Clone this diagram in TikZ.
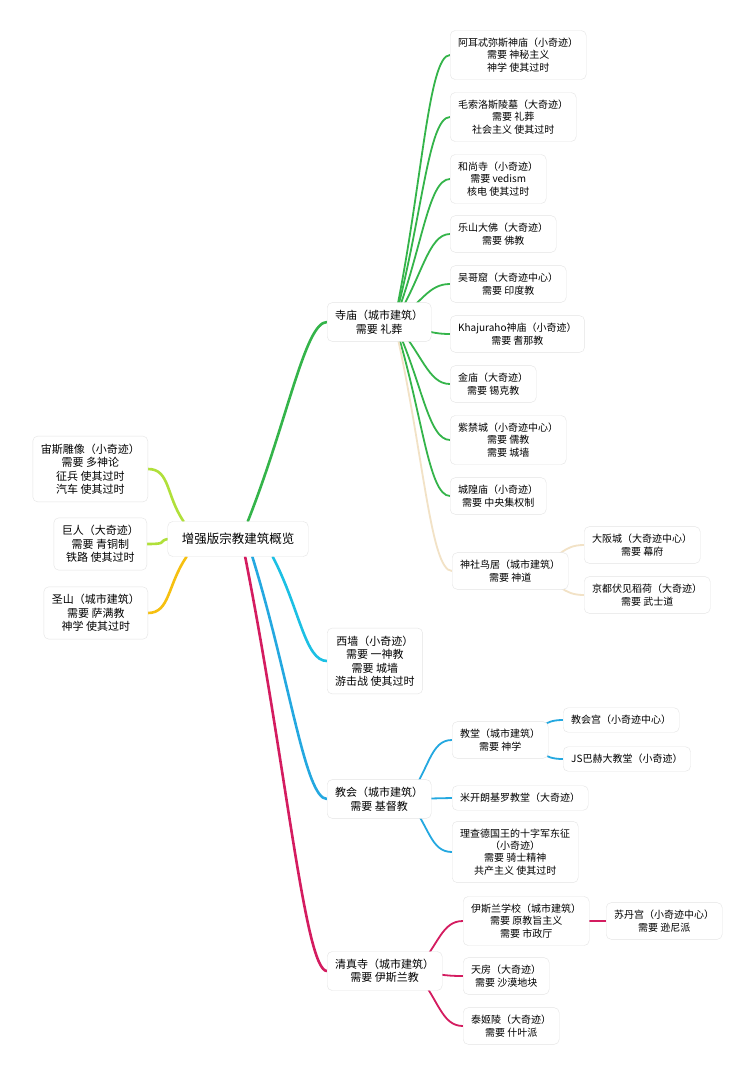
\documentclass[tikz,border=0pt]{standalone}
\usepackage{fontspec}
\setmainfont{Noto Sans CJK SC}
\usetikzlibrary{calc,backgrounds}
\definecolor{boxgray}{RGB}{228,228,228}
\definecolor{templegreen}{RGB}{52,180,74}
\definecolor{shintobeige}{RGB}{242,226,198}
\definecolor{zeuslime}{RGB}{176,224,58}
\definecolor{mountyellow}{RGB}{246,192,16}
\definecolor{wallcyan}{RGB}{28,192,228}
\definecolor{churchblue}{RGB}{36,168,224}
\definecolor{mosquered}{RGB}{212,28,96}
\tikzset{
  box/.style={draw=boxgray, fill=white, rounded corners=5pt, align=center,
    inner xsep=8pt, inner ysep=7.5pt},
  rootbox/.style={box, font=\fontsize{12.5}{15}\selectfont, inner xsep=14pt,
    minimum height=35pt},
  mainbox/.style={box, font=\fontsize{11}{13.5}\selectfont},
  leafbox/.style={box, font=\fontsize{10}{12.3}\selectfont},
  branch/.style={line width=2.6pt, line cap=round,
    to path={.. controls ($(\tikztostart)!0.5!(\tikztotarget)$)
      and ($(\tikztotarget)+(-22,0)$) .. (\tikztotarget)}},
  branchleft/.style={line width=2.6pt, line cap=round,
    to path={.. controls ($(\tikztostart)!0.5!(\tikztotarget)$)
      and ($(\tikztotarget)+(22,0)$) .. (\tikztotarget)}},
  twig/.style={branch, line width=1.8pt}
}
\begin{document}
\begin{tikzpicture}[x=1pt, y=-1pt]
  \useasboundingbox (0,0) rectangle (750,1076);

  % centro
  \node[rootbox] (root) at (238,539) {增强版宗教建筑概览};

  % lado izquierdo
  \node[mainbox, anchor=east] (zeus) at (148,469) {宙斯雕像（小奇迹）\\需要 多神论\\征兵 使其过时\\汽车 使其过时};
  \node[mainbox, anchor=east] (colossus) at (147,544) {巨人（大奇迹）\\需要 青铜制\\铁路 使其过时};
  \node[mainbox, anchor=east] (holymount) at (148,613) {圣山（城市建筑）\\需要 萨满教\\神学 使其过时};

  % ramas principales
  \node[mainbox, anchor=west] (temple) at (327,322) {寺庙（城市建筑）\\需要 礼葬};
  \node[mainbox, anchor=west] (wall) at (327,661) {西墙（小奇迹）\\需要 一神教\\需要 城墙\\游击战 使其过时};
  \node[mainbox, anchor=west] (church) at (327,799) {教会（城市建筑）\\需要 基督教};
  \node[mainbox, anchor=west] (mosque) at (327,971) {清真寺（城市建筑）\\需要 伊斯兰教};

  %寺庙
  \node[leafbox, anchor=west] (artemis) at (450,55) {阿耳忒弥斯神庙（小奇迹）\\需要 神秘主义\\神学 使其过时};
  \node[leafbox, anchor=west] (mausoleum) at (450,117) {毛索洛斯陵墓（大奇迹）\\需要 礼葬\\社会主义 使其过时};
  \node[leafbox, anchor=west] (monastery) at (450,179) {和尚寺（小奇迹）\\需要 vedism\\核电 使其过时};
  \node[leafbox, anchor=west] (leshan) at (450,234) {乐山大佛（大奇迹）\\需要 佛教};
  \node[leafbox, anchor=west] (angkor) at (450,284) {吴哥窟（大奇迹中心）\\需要 印度教};
  \node[leafbox, anchor=west] (khajuraho) at (450,334) {Khajuraho神庙（小奇迹）\\需要 耆那教};
  \node[leafbox, anchor=west] (golden) at (450,384) {金庙（大奇迹）\\需要 锡克教};
  \node[leafbox, anchor=west] (forbidden) at (450,440) {紫禁城（小奇迹中心）\\需要 儒教\\需要 城墙};
  \node[leafbox, anchor=west] (chenghuang) at (450,496) {城隍庙（小奇迹）\\需要 中央集权制};
  \node[leafbox, anchor=west] (shrine) at (452,571) {神社鸟居（城市建筑）\\需要 神道};
  \node[leafbox, anchor=west] (osaka) at (584,545) {大阪城（大奇迹中心）\\需要 幕府};
  \node[leafbox, anchor=west] (fushimi) at (584,595) {京都伏见稻荷（大奇迹）\\需要 武士道};

  % 教会
  \node[leafbox, anchor=west] (cathedral) at (452,740) {教堂（城市建筑）\\需要 神学};
  \node[leafbox, anchor=west] (palace) at (563,720) {教会宫（小奇迹中心）};
  \node[leafbox, anchor=west] (bach) at (563,759) {JS巴赫大教堂（小奇迹）};
  \node[leafbox, anchor=west] (michelangelo) at (452,798) {米开朗基罗教堂（大奇迹）};
  \node[leafbox, anchor=west] (crusade) at (452,852) {理查德国王的十字军东征\\（小奇迹）\\需要 骑士精神\\共产主义 使其过时};

  % 清真寺
  \node[leafbox, anchor=west] (madrasa) at (463,921) {伊斯兰学校（城市建筑）\\需要 原教旨主义\\需要 市政厅};
  \node[leafbox, anchor=west] (sultan) at (606,921) {苏丹宫（小奇迹中心）\\需要 逊尼派};
  \node[leafbox, anchor=west] (kaaba) at (463,976) {天房（大奇迹）\\需要 沙漠地块};
  \node[leafbox, anchor=west] (tajmahal) at (463,1026) {泰姬陵（大奇迹）\\需要 什叶派};

  \coordinate (templehub) at ($(temple.center)+(15,0)$);
  \coordinate (shrinehub) at ($(shrine.center)+(25,0)$);
  \coordinate (churchhub) at ($(church.center)+(28,0)$);
  \coordinate (cathedralhub) at ($(cathedral.center)+(22,0)$);
  \coordinate (mosquehub) at ($(mosque.center)+(30,0)$);

  \begin{scope}[on background layer]
    \fill[white] (0,0) rectangle (750,1076);
    % conexiones
    \draw[branchleft, zeuslime] (root.162) to (zeus.east);
    \draw[branchleft, zeuslime] (root.180) to (colossus.east);
    \draw[branchleft, mountyellow] (root.199) to (holymount.east);
    \draw[branch, templegreen] (root.61) to (temple.west);
    \draw[branch, wallcyan] (root.-27) to (wall.west);
    \draw[branch, churchblue] (root.-51) to (church.west);
    \draw[branch, mosquered] (root.-68) to (mosque.west);
    \foreach \leaf in {artemis, mausoleum, monastery, leshan, angkor, khajuraho, golden, forbidden, chenghuang}
      \draw[twig, templegreen] (templehub) to (\leaf.west);
    \draw[twig, shintobeige] (templehub) to (shrine.west);
    \foreach \leaf in {osaka, fushimi}
      \draw[twig, shintobeige] (shrinehub) to (\leaf.west);
    \foreach \leaf in {cathedral, michelangelo, crusade}
      \draw[twig, churchblue] (churchhub) to (\leaf.west);
    \foreach \leaf in {palace, bach}
      \draw[twig, churchblue] (cathedralhub) to (\leaf.west);
    \foreach \leaf in {madrasa, kaaba, tajmahal}
      \draw[twig, mosquered] (mosquehub) to (\leaf.west);
    \draw[twig, mosquered] (madrasa.east) -- (sultan.west);
  \end{scope}
\end{tikzpicture}
\end{document}
